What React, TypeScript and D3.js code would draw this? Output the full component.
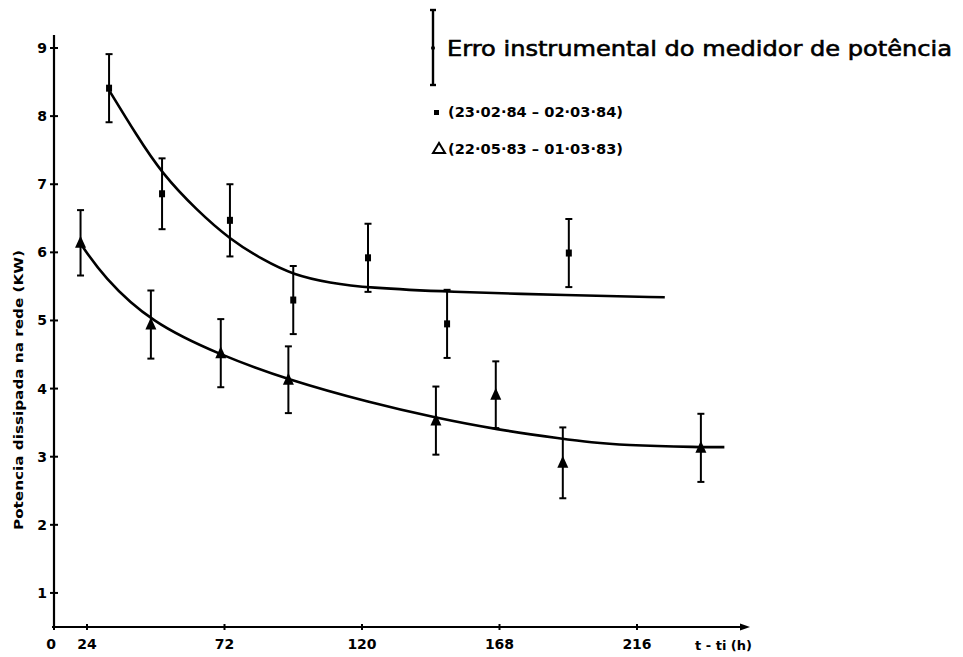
import React from 'react';
import * as d3 from 'd3';

const xTickValues = [0, 24, 72, 120, 168, 216];
const xTickLabels = ['0', '24', '72', '120', '168', '216'];
const yTickValues = [1, 2, 3, 4, 5, 6, 7, 8, 9];
const yTickLabels = ['1', '2', '3', '4', '5', '6', '7', '8', '9'];

// Series 1: × (23·02·84 – 02·03·84)
const series1Hours = [31.7, 50.2, 73.9, 96.0, 122.1, 149.7, 192.2];
const series1Values = [8.41, 6.86, 6.47, 5.30, 5.92, 4.95, 5.99];
const series1Errors = [0.5, 0.52, 0.53, 0.5, 0.5, 0.5, 0.5];

// Series 2: Δ (22·05·83 – 01·03·83)
const series2Hours = [19.3, 46.3, 70.7, 94.3, 145.8, 166.7, 190.1, 238.3];
const series2Values = [6.14, 4.94, 4.52, 4.13, 3.53, 3.91, 2.91, 3.13];
const series2Errors = [0.48, 0.5, 0.5, 0.49, 0.5, 0.49, 0.52, 0.5];

// Fitted curves
const curve1Hours = [32.0, 41.3, 50.1, 62.3, 73.9, 85.4, 96.0, 108.8, 122.1, 149.6, 192.6, 225.7];
const curve1Values = [8.36, 7.72, 7.16, 6.62, 6.19, 5.89, 5.67, 5.55, 5.48, 5.42, 5.37, 5.34];
const curve2Hours = [18.9, 29.7, 46.3, 70.7, 94.0, 123.1, 145.8, 166.7, 190.6, 199.9, 210.5, 238.5, 246.5];
const curve2Values = [6.14, 5.64, 4.97, 4.49, 4.13, 3.79, 3.57, 3.4, 3.26, 3.21, 3.17, 3.14, 3.14];

const legendTitle = 'Erro instrumental do medidor de potência';
const legend1 = '(23·02·84 – 02·03·84)';
const legend2 = '(22·05·83 – 01·03·83)';
const yTitle = 'Potencia dissipada na rede (KW)';
const xTitle = 't - ti (h)';

const W = 963;
const H = 657;

export default function App() {
  const x = d3.scaleLinear().domain([0, 24, 216]).range([54, 87, 637]);
  const y = d3.scaleLinear().domain([0.5, 9]).range([627, 48]);
  const line = d3
    .line<[number, number]>()
    .x((d) => x(d[0]))
    .y((d) => y(d[1]))
    .curve(d3.curveBasis);

  const c1 = curve1Hours.map((h, i) => [h, curve1Values[i]] as [number, number]);
  const c2 = curve2Hours.map((h, i) => [h, curve2Values[i]] as [number, number]);

  const x0 = x(0);
  const yBase = y(0.5);
  const font = "'DejaVu Sans', sans-serif";

  const errorBar = (cx: number, v: number, e: number, key: string) => {
    const yt = y(v + e);
    const yb = y(v - e);
    return (
      <g key={key}>
        <line x1={cx} x2={cx} y1={yt} y2={yb} stroke="#000" strokeWidth={2} />
        <line x1={cx - 3.5} x2={cx + 3.5} y1={yt} y2={yt} stroke="#000" strokeWidth={2} />
        <line x1={cx - 3.5} x2={cx + 3.5} y1={yb} y2={yb} stroke="#000" strokeWidth={2} />
      </g>
    );
  };

  return (
    <svg
      width={W}
      height={H}
      style={{ position: 'absolute', left: 0, top: 0, background: '#fff' }}
      xmlns="http://www.w3.org/2000/svg"
    >
      <rect x={0} y={0} width={W} height={H} fill="#fff" />
      {/* Y axis */}
      <line x1={x0} x2={x0} y1={35} y2={yBase + 1} stroke="#000" strokeWidth={2.2} />
      {yTickValues.map((v, i) => (
        <g key={'yt' + v}>
          <line x1={x0 - 4} x2={x0 + 4} y1={y(v)} y2={y(v)} stroke="#000" strokeWidth={2} />
          <text
            x={x0 - 7}
            y={y(v) + 5}
            textAnchor="end"
            fontFamily={font}
            fontWeight="bold"
            fontSize={14}
          >
            {yTickLabels[i]}
          </text>
        </g>
      ))}
      {/* X axis */}
      <line x1={x0 - 2} x2={742} y1={yBase} y2={yBase} stroke="#000" strokeWidth={2.2} />
      <path d={`M750,${yBase} L740,${yBase - 3.5} L740,${yBase + 3.5} Z`} fill="#000" />
      {xTickValues.map((h, i) => (
        <g key={'xt' + h}>
          <line x1={x(h)} x2={x(h)} y1={yBase - 3} y2={yBase + 3} stroke="#000" strokeWidth={2} />
          <text
            x={x(h) - (i === 0 ? 3 : 0)}
            y={649}
            textAnchor="middle"
            fontFamily={font}
            fontWeight="bold"
            fontSize={14}
          >
            {xTickLabels[i]}
          </text>
        </g>
      ))}
      <text x={695} y={650} fontFamily={font} fontWeight="bold" fontSize={13} textLength={57} lengthAdjust="spacingAndGlyphs">
        {xTitle}
      </text>
      {/* Y title */}
      <text
        transform={`translate(23,390) rotate(-90)`}
        textAnchor="middle"
        fontFamily={font}
        fontWeight="bold"
        fontSize={13}
        textLength={280}
        lengthAdjust="spacingAndGlyphs"
      >
        {yTitle}
      </text>

      {/* Curves */}
      <path d={line(c1) || ''} fill="none" stroke="#000" strokeWidth={2.6} />
      <path d={line(c2) || ''} fill="none" stroke="#000" strokeWidth={2.6} />

      {/* Series 1 */}
      {series1Hours.map((h, i) => {
        const cx = x(h);
        const cy = y(series1Values[i]);
        return (
          <g key={'s1' + i}>
            {errorBar(cx, series1Values[i], series1Errors[i], 'e1' + i)}
            <rect x={cx - 3} y={cy - 3.5} width={6} height={7} fill="#000" />
          </g>
        );
      })}
      {/* Series 2 */}
      {series2Hours.map((h, i) => {
        const cx = x(h);
        const cy = y(series2Values[i]);
        return (
          <g key={'s2' + i}>
            {errorBar(cx, series2Values[i], series2Errors[i], 'e2' + i)}
            <path d={`M${cx},${cy - 7} L${cx + 5.5},${cy + 5} L${cx - 5.5},${cy + 5} Z`} fill="#000" />
          </g>
        );
      })}

      {/* Legend */}
      <line x1={433} x2={433} y1={10} y2={85} stroke="#000" strokeWidth={2.4} />
      <line x1={430} x2={436} y1={10} y2={10} stroke="#000" strokeWidth={2.4} />
      <line x1={430} x2={436} y1={85} y2={85} stroke="#000" strokeWidth={2.4} />
      <circle cx={433} cy={48} r={2} fill="#000" />
      <text
        x={447}
        y={56}
        fontFamily={font}
        fontSize={21}
        stroke="#000"
        strokeWidth={0.6}
        textLength={505}
        lengthAdjust="spacingAndGlyphs"
      >
        {legendTitle}
      </text>
      <rect x={434} y={110} width={5} height={5} fill="#000" />
      <text x={448} y={117} fontFamily={font} fontWeight="bold" fontSize={14} textLength={175} lengthAdjust="spacingAndGlyphs">
        {legend1}
      </text>
      <path d="M433,153 L439,143 L445,153 Z" fill="none" stroke="#000" strokeWidth={2} />
      <text x={448} y={154} fontFamily={font} fontWeight="bold" fontSize={14} textLength={175} lengthAdjust="spacingAndGlyphs">
        {legend2}
      </text>
    </svg>
  );
}
